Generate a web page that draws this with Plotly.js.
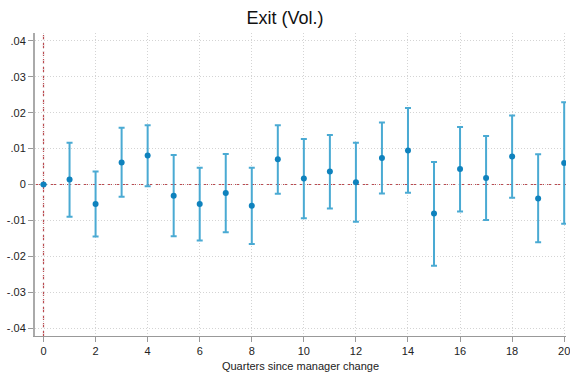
<!DOCTYPE html>
<html><head><meta charset="utf-8">
<script src="https://cdn.plot.ly/plotly-3.0.1.min.js"></script>
<style>html,body{margin:0;padding:0;background:#fff}#chart{width:570px;height:376px}</style>
</head><body><div id="chart"></div>
<script>
const quarters = [0,1,2,3,4,5,6,7,8,9,10,11,12,13,14,15,16,17,18,19,20];
const estimate = [0,0.0014,-0.0054,0.0061,0.0081,-0.0031,-0.0054,-0.0024,-0.0059,0.0070,0.0017,0.0036,0.0006,0.0074,0.0095,-0.0081,0.0043,0.0018,0.0078,-0.0039,0.0060];
const ciUpper = [0,0.0116,0.0036,0.0158,0.0165,0.0082,0.0047,0.0085,0.0047,0.0165,0.0127,0.0138,0.0116,0.0173,0.0213,0.0063,0.0160,0.0135,0.0192,0.0084,0.0229];
const ciLower = [0,-0.0090,-0.0145,-0.0034,-0.0005,-0.0144,-0.0156,-0.0133,-0.0166,-0.0026,-0.0094,-0.0067,-0.0104,-0.0025,-0.0023,-0.0226,-0.0075,-0.0099,-0.0037,-0.0161,-0.0109];
const xTicks = [0,2,4,6,8,10,12,14,16,18,20];
const yTickVals = [-0.04,-0.03,-0.02,-0.01,0,0.01,0.02,0.03,0.04];
const yTickText = ['-.04','-.03','-.02','-.01','0','.01','.02','.03','.04'];

const errPlus = ciUpper.map((u,i)=>u-estimate[i]);
const errMinus = estimate.map((e,i)=>e-ciLower[i]);

const trace = {
  x: quarters, y: estimate, type:'scatter', mode:'markers',
  marker:{color:'#0f82bd', size:6},
  error_y:{type:'data', symmetric:false, array:errPlus, arrayminus:errMinus,
    color:'#4aaad3', thickness:2, width:3},
  showlegend:false, hoverinfo:'skip'
};
const layout = {
  width:570, height:376,
  margin:{l:35, r:4, t:33, b:40},
  paper_bgcolor:'#fff', plot_bgcolor:'#fff',
  font:{family:'Liberation Sans, Arial, sans-serif', size:11, color:'#222'},
  title:{text:'Exit (Vol.)', x:0.5, xanchor:'center', y:0.952, yanchor:'middle', font:{size:18, color:'#111'}},
  xaxis:{range:[-0.327,20.07], tickvals:xTicks, ticktext:xTicks.map(String),
    showgrid:true, gridcolor:'#d4d4d4', griddash:'1px,2px', gridwidth:1,
    zeroline:false, showline:true, linecolor:'#999', linewidth:1,
    ticks:'outside', ticklen:5, tickcolor:'#999', tickfont:{size:11}, ticklabeloverflow:'allow',
    title:{text:'Quarters since manager change', font:{size:11}, standoff:6}},
  yaxis:{range:[-0.0422,0.0422], tickvals:yTickVals, ticktext:yTickText,
    showgrid:true, gridcolor:'#d4d4d4', griddash:'1px,2px', gridwidth:1,
    zeroline:false, showline:true, linecolor:'#aaa', linewidth:2,
    ticks:'outside', ticklen:5, tickcolor:'#999', tickfont:{size:11}},
  shapes:[
    {type:'line', xref:'paper', x0:0, x1:1, yref:'y', y0:0, y1:0, line:{color:'#bd4a50', width:1.2, dash:'5px,3px'}, layer:'between'},
    {type:'line', xref:'x', x0:0, x1:0, yref:'paper', y0:0, y1:1, line:{color:'#bd4a50', width:1.2, dash:'5px,3px'}, layer:'between'}
  ]
};
Plotly.newPlot('chart',[trace],layout,{displayModeBar:false, staticPlot:true});
</script></body></html>
